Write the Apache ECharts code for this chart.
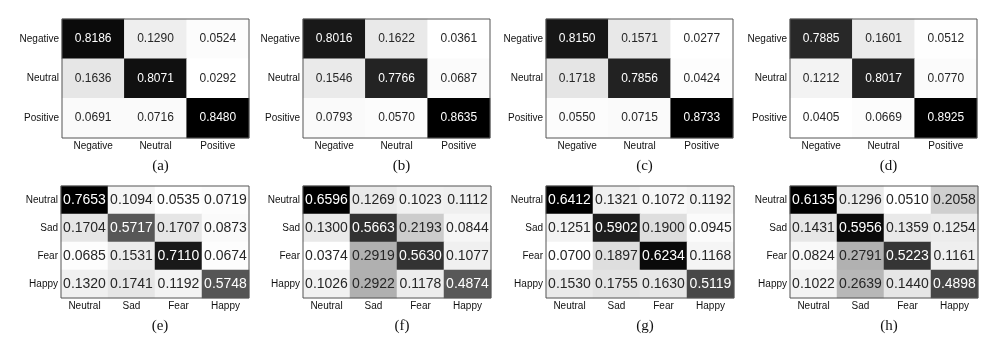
<!DOCTYPE html>
<html>
<head>
<meta charset="utf-8">
<script src="https://cdn.jsdelivr.net/npm/echarts@6/dist/echarts.min.js"></script>
<style>
  html, body { margin: 0; padding: 0; background: #fff; }
  #main { width: 996px; height: 344px; }
</style>
</head>
<body>
<div id="main"></div>
<script>
// class names
const sentiClasses = ['Negative', 'Neutral', 'Positive'];
const emoClasses = ['Neutral', 'Sad', 'Fear', 'Happy'];
const panelNames = ['(a)', '(b)', '(c)', '(d)', '(e)', '(f)', '(g)', '(h)'];

// confusion matrices, row = true class, col = predicted
const matA = [[0.8186, 0.1290, 0.0524], [0.1636, 0.8071, 0.0292], [0.0691, 0.0716, 0.8480]];
const matB = [[0.8016, 0.1622, 0.0361], [0.1546, 0.7766, 0.0687], [0.0793, 0.0570, 0.8635]];
const matC = [[0.8150, 0.1571, 0.0277], [0.1718, 0.7856, 0.0424], [0.0550, 0.0715, 0.8733]];
const matD = [[0.7885, 0.1601, 0.0512], [0.1212, 0.8017, 0.0770], [0.0405, 0.0669, 0.8925]];
const matE = [[0.7653, 0.1094, 0.0535, 0.0719], [0.1704, 0.5717, 0.1707, 0.0873], [0.0685, 0.1531, 0.7110, 0.0674], [0.1320, 0.1741, 0.1192, 0.5748]];
const matF = [[0.6596, 0.1269, 0.1023, 0.1112], [0.1300, 0.5663, 0.2193, 0.0844], [0.0374, 0.2919, 0.5630, 0.1077], [0.1026, 0.2922, 0.1178, 0.4874]];
const matG = [[0.6412, 0.1321, 0.1072, 0.1192], [0.1251, 0.5902, 0.1900, 0.0945], [0.0700, 0.1897, 0.6234, 0.1168], [0.1530, 0.1755, 0.1630, 0.5119]];
const matH = [[0.6135, 0.1296, 0.0510, 0.2058], [0.1431, 0.5956, 0.1359, 0.1254], [0.0824, 0.2791, 0.5223, 0.1161], [0.1022, 0.2639, 0.1440, 0.4898]];

const mats = [matA, matB, matC, matD, matE, matF, matG, matH];

// panel boxes [left, top, width, height]
const boxes = [
  [62, 19, 187, 119], [303, 19, 187, 119], [546, 19, 187, 119], [790, 19, 187, 119],
  [61, 186, 188, 112], [303, 186, 188, 112], [546, 186, 188, 112], [790, 186, 188, 112]
];

const chart = echarts.init(document.getElementById('main'), null, { renderer: 'canvas' });

const sans = '"Liberation Sans", Arial, sans-serif';
const serif = '"Liberation Serif", "Times New Roman", serif';

// white -> black ramp, a bit lighter in the mid tones
const ramp = [];
for (let k = 0; k <= 20; k++) {
  const g = Math.round(255 * (1 - Math.pow(k / 20, 1.3)));
  ramp.push('rgb(' + g + ',' + g + ',' + g + ')');
}

let grid = [], xAxis = [], yAxis = [], series = [], visualMap = [], title = [];

mats.forEach(function (m, i) {
  const b = boxes[i];
  const cats = i < 4 ? sentiClasses : emoClasses;
  const flat = [].concat.apply([], m);
  const mn = Math.min.apply(null, flat);
  const mx = Math.max.apply(null, flat);
  const data = [];
  m.forEach(function (row, r) {
    row.forEach(function (v, c) {
      const t = (v - mn) / (mx - mn);
      data.push({
        value: [c, r, v],
        label: { color: t > 0.5 ? '#ffffff' : '#262626' }
      });
    });
  });

  grid.push({
    left: b[0], top: b[1], width: b[2], height: b[3],
    show: true, z: 5, backgroundColor: 'transparent',
    borderColor: '#555', borderWidth: 1
  });
  xAxis.push({
    type: 'category', gridIndex: i, data: cats,
    axisLine: { show: false }, axisTick: { show: false }, splitLine: { show: false },
    axisLabel: { color: '#111', fontFamily: sans, fontSize: 10, margin: 3, interval: 0 }
  });
  yAxis.push({
    type: 'category', gridIndex: i, data: cats, inverse: true,
    axisLine: { show: false }, axisTick: { show: false }, splitLine: { show: false },
    axisLabel: { color: '#111', fontFamily: sans, fontSize: 10, margin: 3, interval: 0 }
  });
  visualMap.push({
    show: false, seriesIndex: i, dimension: 2, min: mn, max: mx,
    inRange: { color: ramp }
  });
  series.push({
    type: 'heatmap', xAxisIndex: i, yAxisIndex: i, data: data,
    label: {
      show: true, fontFamily: sans, fontSize: i < 4 ? 12 : 14,
      formatter: function (p) { return p.value[2].toFixed(4); }
    },
    itemStyle: { borderWidth: 0 },
    emphasis: { disabled: true }
  });
  title.push({
    text: panelNames[i],
    left: b[0] + b[2] / 2, textAlign: 'center',
    top: i < 4 ? 154 : 314,
    textStyle: { fontFamily: serif, fontSize: 15, fontWeight: 'normal', color: '#111' }
  });
});

chart.setOption({
  backgroundColor: '#ffffff',
  animation: false,
  title: title,
  grid: grid,
  xAxis: xAxis,
  yAxis: yAxis,
  visualMap: visualMap,
  series: series
});
</script>
</body>
</html>
